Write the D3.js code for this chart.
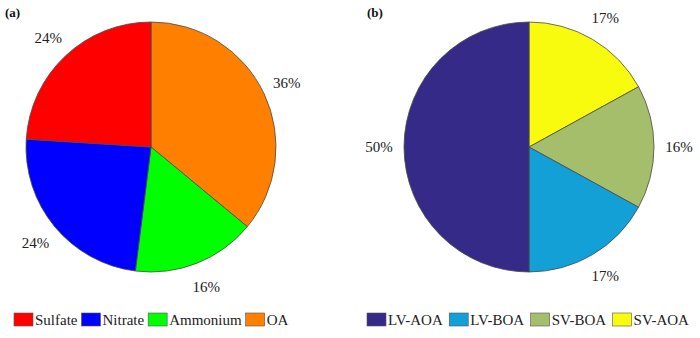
<!DOCTYPE html>
<html>
<head>
<meta charset="utf-8">
<script src="https://cdn.jsdelivr.net/npm/d3@7"></script>
<style>
  html, body { margin: 0; padding: 0; background: #fff; }
  svg text { font-family: 'Liberation Serif', 'Times New Roman', Times, 'DejaVu Serif', serif; }
</style>
</head>
<body>
<svg id="chart" width="700" height="338"></svg>
<script>
// Panel (a): PM1 inorganic + organic composition
const speciesA = ["Sulfate", "Nitrate", "Ammonium", "OA"];
const valuesA = [24, 24, 16, 36];
const colorsA = ["#ff0000", "#0000ff", "#00ff00", "#ff8000"];
// Clockwise drawing order from 12 o'clock
const orderA = ["OA", "Ammonium", "Nitrate", "Sulfate"];

// Panel (b): OA factor composition
const factorsB = ["LV-AOA", "LV-BOA", "SV-BOA", "SV-AOA"];
const valuesB = [50, 17, 16, 17];
const colorsB = ["#352a87", "#12a0d6", "#a5be6b", "#f9fb0e"];
const orderB = ["SV-AOA", "SV-BOA", "LV-BOA", "LV-AOA"];

const FONT = "'Liberation Serif', 'Times New Roman', Times, 'DejaVu Serif', serif";
const svg = d3.select("#chart");
const radius = 125;
const labelRadius = radius * 1.2;

function drawPanel(cfg) {
  const data = cfg.order.map(name => {
    const i = cfg.names.indexOf(name);
    return { name, value: cfg.values[i], color: cfg.colors[i] };
  });
  const pie = d3.pie().sort(null).value(d => d.value).startAngle(0).endAngle(2 * Math.PI);
  const arc = d3.arc().innerRadius(0).outerRadius(radius);
  const labelArc = d3.arc().innerRadius(labelRadius).outerRadius(labelRadius);

  const g = svg.append("g").attr("transform", `translate(${cfg.cx},${cfg.cy})`);
  const arcs = pie(data);
  g.selectAll("path.slice").data(arcs).join("path")
    .attr("class", "slice")
    .attr("d", arc)
    .attr("fill", d => d.data.color)
    .attr("stroke", "#4a4a4a")
    .attr("stroke-width", 0.8);

  g.selectAll("text.pct").data(arcs).join("text")
    .attr("class", "pct")
    .attr("transform", d => `translate(${labelArc.centroid(d)})`)
    .attr("text-anchor", "middle")
    .attr("dy", "0.35em")
    .attr("font-family", FONT)
    .attr("font-size", 15)
    .attr("fill", "#222")
    .text(d => d.data.value + "%");

  // Panel tag
  svg.append("text")
    .attr("x", cfg.tagX).attr("y", 17)
    .attr("font-family", FONT)
    .attr("font-size", 13).attr("font-weight", "bold")
    .attr("fill", "#111")
    .text(cfg.tag);

  // Legend laid out left to right
  const lg = svg.append("g");
  let x = cfg.legendX;
  cfg.names.forEach((name, i) => {
    lg.append("rect")
      .attr("x", x).attr("y", 313)
      .attr("width", 19).attr("height", 13)
      .attr("fill", cfg.colors[i])
      .attr("stroke", "#555").attr("stroke-width", 0.6);
    const t = lg.append("text")
      .attr("x", x + 21).attr("y", 325)
      .attr("font-family", FONT)
      .attr("font-size", 15).attr("fill", "#222")
      .text(name);
    x = x + 21 + t.node().getComputedTextLength() + cfg.legendGap;
  });
}

drawPanel({ names: speciesA, values: valuesA, colors: colorsA, order: orderA,
  cx: 151, cy: 147, tag: "(a)", tagX: 5, legendX: 14, legendGap: 4 });
drawPanel({ names: factorsB, values: valuesB, colors: colorsB, order: orderB,
  cx: 529, cy: 147, tag: "(b)", tagX: 367, legendX: 367, legendGap: 6.5 });
</script>
</body>
</html>
